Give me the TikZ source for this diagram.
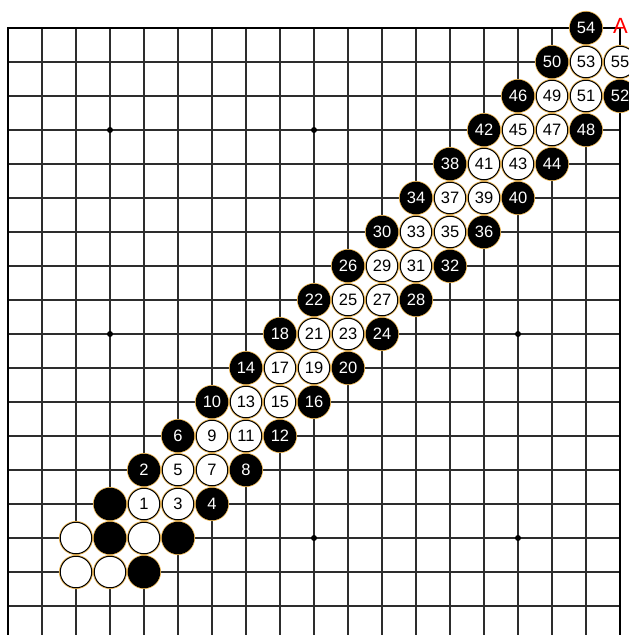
\documentclass[tikz,border=0pt]{standalone}
\usepackage{fontspec}
\setmainfont{Liberation Sans}
\definecolor{halo}{RGB}{236,184,88}
\definecolor{gridc}{RGB}{45,45,45}
\begin{document}
\begin{tikzpicture}[x=1pt,y=1pt,
  gridline/.style={draw=gridc,line width=1.3pt},
  border/.style={draw=black,line width=2.4pt},
  stonebase/.style={circle,minimum size=31.5pt,inner sep=0pt,line width=1pt,
    preaction={draw=halo,line width=2.6pt},
    font=\fontsize{16.5}{16.5}\selectfont},
  bstone/.style={stonebase,fill=black,draw=black,text=white},
  wstone/.style={stonebase,fill=white,draw=black,text=black},
  starpt/.style={fill=black},
  marklabel/.style={text=red,inner sep=0pt,font=\fontsize{22}{22}\selectfont}]
\useasboundingbox (0,0) rectangle (629,-635);
\clip (0,0) rectangle (629,-635);
\fill[white] (0,0) rectangle (629,-635);
% grid
\foreach \i in {0,...,18} {
  \draw[gridline] ({8+34*\i},-28) -- ({8+34*\i},-660);
  \draw[gridline] (8,{-28-34*\i}) -- (620,{-28-34*\i});
}
\draw[border] (8,-660) -- (8,-28) -- (620,-28) -- (620,-660);
% star points
\foreach \c/\r in {3/3,9/3,15/3,3/9,9/9,15/9,3/15,9/15,15/15}
  \fill[starpt] ({8+34*\c},{-28-34*\r}) circle (3);
% unlabeled stones
\foreach \c/\r [count=\k] in {3/14,3/15,5/15,4/16}
  \node[bstone] (bx\k) at ({8+34*\c},{-28-34*\r}) {};
\foreach \c/\r [count=\k] in {2/15,4/15,2/16,3/16}
  \node[wstone] (wx\k) at ({8+34*\c},{-28-34*\r}) {};
% black numbered stones
\foreach \c/\r/\n in {4/13/2,6/14/4,5/12/6,7/13/8,6/11/10,8/12/12,7/10/14,9/11/16,
  8/9/18,10/10/20,9/8/22,11/9/24,10/7/26,12/8/28,11/6/30,13/7/32,12/5/34,14/6/36,
  13/4/38,15/5/40,14/3/42,16/4/44,15/2/46,17/3/48,16/1/50,18/2/52,17/0/54}
  \node[bstone] (s\n) at ({8+34*\c},{-28-34*\r}) {\n};
% white numbered stones
\foreach \c/\r/\n in {4/14/1,5/14/3,5/13/5,6/13/7,6/12/9,7/12/11,7/11/13,8/11/15,
  8/10/17,9/10/19,9/9/21,10/9/23,10/8/25,11/8/27,11/7/29,12/7/31,12/6/33,13/6/35,
  13/5/37,14/5/39,14/4/41,15/4/43,15/3/45,16/3/47,16/2/49,17/2/51,17/1/53,18/1/55}
  \node[wstone] (s\n) at ({8+34*\c},{-28-34*\r}) {\n};
\node[marklabel] (mA) at (620.5,-26) {A};
\end{tikzpicture}
\end{document}
